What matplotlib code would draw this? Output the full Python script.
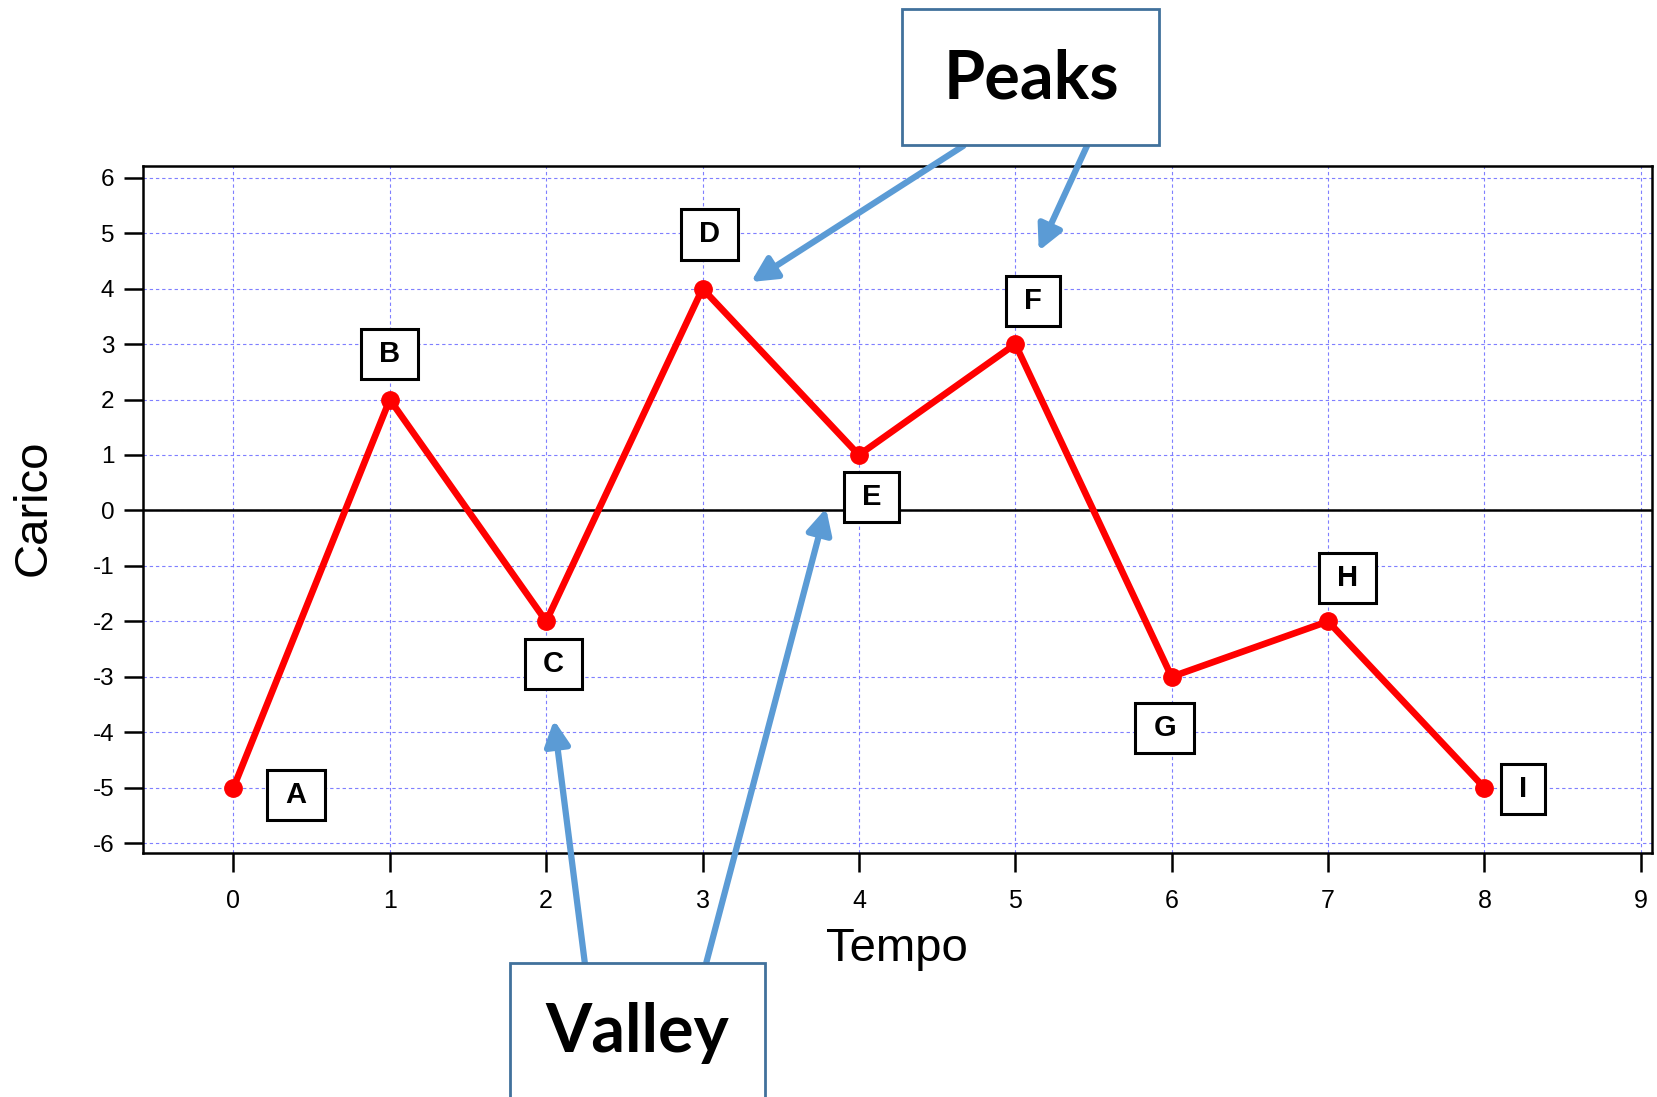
import matplotlib
matplotlib.use("Agg")
import matplotlib.pyplot as plt
from matplotlib.patches import Rectangle
from matplotlib.path import Path

plt.rcParams['font.family'] = ['Liberation Sans', 'DejaVu Sans']
plt.rcParams['axes.unicode_minus'] = False

# ---- data ----
tempo = [0, 1, 2, 3, 4, 5, 6, 7, 8]
carico = [-5, 2, -2, 4, 1, 3, -3, -2, -5]
point_labels = ['A', 'B', 'C', 'D', 'E', 'F', 'G', 'H', 'I']
x_ticks = [0, 1, 2, 3, 4, 5, 6, 7, 8, 9]
y_ticks = [-6, -5, -4, -3, -2, -1, 0, 1, 2, 3, 4, 5, 6]

# label offsets (points) from each data point
label_offsets = [(45, -5), (0, 33), (5, -31), (5, 39), (9, -30),
                 (13, 31), (-5, -37), (14, 31), (28, -1)]

# arrow targets (data) and tails (figure fraction)
peak_targets = [(3.31, 4.12), (5.15, 4.68)]
peak_tails = [(0.581, 0.867), (0.6556, 0.867)]
valley_targets = [(2.05, -3.78), (3.79, 0.04)]
valley_tails = [(0.3527, 0.1225), (0.426, 0.1225)]

fig = plt.figure(figsize=(16.58, 10.97), dpi=100)
ax = fig.add_axes([0.0861, 0.2228, 0.9101, 0.6258])

ax.set_xlim(-0.58, 9.07)
ax.set_ylim(-6.17, 6.21)
ax.set_xticks(x_ticks)
ax.set_yticks(y_ticks)
ax.set_xticklabels([str(v) for v in x_ticks])
ax.set_yticklabels([str(v) for v in y_ticks])

ax.grid(True, color='#7f7fff', linestyle=(0, (3.0, 2.6)), linewidth=0.8, zorder=0)
ax.set_axisbelow(True)
ax.axhline(0, color='black', linewidth=1.8, zorder=1)

ax.plot(tempo, carico, color='#ff0000', linewidth=4.8, marker='o',
        markersize=12.5, zorder=3)

for s in ax.spines.values():
    s.set_linewidth(1.8)
ax.tick_params(axis='both', direction='out', length=14, width=1.8,
               colors='black')
ax.tick_params(axis='x', pad=12, labelsize=18)
ax.tick_params(axis='y', pad=6.5, labelsize=17.5)

ax.set_xlabel('Tempo', fontsize=34)
ax.set_ylabel('Carico', fontsize=34)
ax.xaxis.label.set_va('center')
ax.yaxis.label.set_va('center')
ax.xaxis.set_label_coords(0.4997, -0.140)
ax.yaxis.set_label_coords(-0.0722, 0.502)


def labelbox(x0, y0, width, height, mutation_size):
    padx = 0.62 * mutation_size
    pady = 0.38 * mutation_size
    xa, xb = x0 - padx, x0 + width + padx
    ya, yb = y0 - pady, y0 + height + pady
    return Path([(xa, ya), (xb, ya), (xb, yb), (xa, yb), (xa, ya)], closed=True)


for xv, yv, lab, off in zip(tempo, carico, point_labels, label_offsets):
    ax.annotate(lab, xy=(xv, yv), xytext=off, textcoords='offset points',
                ha='center', va='center', fontsize=21, fontweight='bold',
                bbox=dict(boxstyle=labelbox, facecolor='white',
                          edgecolor='black', linewidth=2.2), zorder=5)

arrow_color = '#5b9bd5'
for tgt, tail in list(zip(peak_targets, peak_tails)) + list(zip(valley_targets, valley_tails)):
    ax.annotate('', xy=tgt, xycoords='data', xytext=tail,
                textcoords='figure fraction', annotation_clip=False,
                arrowprops=dict(arrowstyle='-|>,head_length=0.75,head_width=0.38',
                                mutation_scale=20, color=arrow_color,
                                linewidth=4.5, shrinkA=0, shrinkB=0),
                zorder=6)

box_edge = '#41719c'
fig.add_artist(Rectangle((0.544, 0.868), 0.155, 0.124, transform=fig.transFigure,
                         facecolor='white', edgecolor=box_edge, linewidth=2.0, zorder=10))
fig.add_artist(Rectangle((0.3074, -0.05), 0.1543, 0.1725, transform=fig.transFigure,
                         facecolor='white', edgecolor=box_edge, linewidth=2.0, zorder=10))
fig.text(0.6218, 0.9277, 'Peaks', ha='center', va='center', fontsize=48,
         fontweight='bold', family=['Lato', 'DejaVu Sans'], zorder=11)
fig.text(0.3846, 0.058, 'Valley', ha='center', va='center', fontsize=48,
         fontweight='bold', family=['Lato', 'DejaVu Sans'], zorder=11)

fig.savefig('out.png', dpi=100)
